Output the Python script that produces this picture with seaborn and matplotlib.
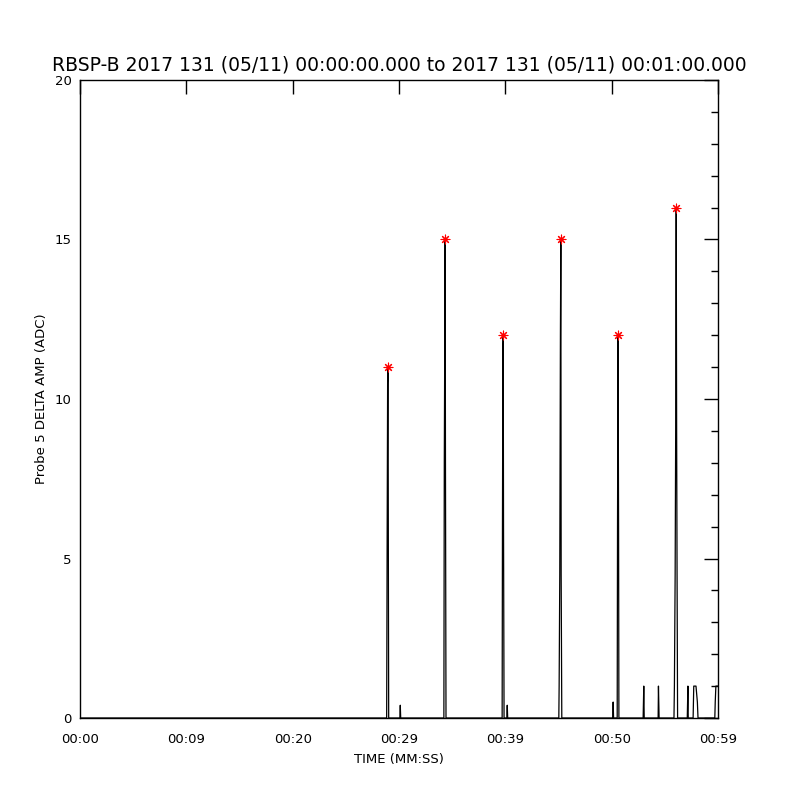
import numpy as np
import pandas as pd
import matplotlib
matplotlib.use("Agg")
import matplotlib.pyplot as plt
import seaborn as sns
from matplotlib.ticker import MultipleLocator

# waveform samples (seconds after 00:00:00, ADC counts)
time_s = [0.0, 28.80,
          28.84, 28.88, 28.93, 28.97, 29.00, 29.03,
          30.08, 30.12, 30.16,
          34.22, 34.26, 34.30, 34.34, 34.37, 34.42,
          39.70, 39.73, 39.77, 39.80, 39.83, 39.88,
          40.14, 40.18, 40.22,
          45.03, 45.06, 45.12, 45.18, 45.22, 45.25, 45.31,
          50.10, 50.14, 50.18,
          50.52, 50.55, 50.60, 50.65, 50.68,
          52.96, 52.99, 53.02, 53.06,
          54.37, 54.40, 54.43, 54.46,
          55.86, 55.90, 55.97, 56.02, 56.07, 56.11, 56.15, 56.20,
          57.11, 57.14, 57.17, 57.20,
          57.66, 57.72, 57.93, 58.06, 58.12,
          59.70, 59.74, 59.80, 59.84, 60.0]
amp = [0, 0,
       0, 5, 10.5, 11, 5, 0,
       0, 0.4, 0,
       0, 8, 11.5, 15, 8, 0,
       0, 6, 11.5, 12, 6, 0,
       0, 0.4, 0,
       0, 1, 4.5, 12, 15, 4.5, 0,
       0, 0.5, 0,
       0, 6, 12, 6, 0,
       0, 0.5, 1, 0,
       0, 1, 0.5, 0,
       0, 1, 4.5, 9, 16, 9, 4.5, 0,
       0, 0.5, 1, 0,
       0, 1, 1, 0.5, 0,
       0, 0.5, 1, 1, 1]

# peak markers
peak_t = [28.97, 34.34, 39.80, 45.22, 50.60, 56.07]
peak_amp = [11, 15, 12, 15, 12, 16]

x_ticks = [0, 10, 20, 30, 40, 50, 60]
x_labels = ["00:00", "00:09", "00:20", "00:29", "00:39", "00:50", "00:59"]
y_ticks = [0, 5, 10, 15, 20]

title = "RBSP-B 2017 131 (05/11) 00:00:00.000 to 2017 131 (05/11) 00:01:00.000"

wave = pd.DataFrame({"t": time_s, "amp": amp})
peaks = pd.DataFrame({"t": peak_t, "amp": peak_amp})

sns.set_style("white")
plt.rcParams["font.family"] = ["DejaVu Sans"]
plt.rcParams["text.color"] = "black"
plt.rcParams["axes.labelcolor"] = "black"

fig = plt.figure(figsize=(8, 8), dpi=100)
ax = fig.add_axes([0.1, 0.1025, 0.7975, 0.7975])

sns.lineplot(data=wave, x="t", y="amp", ax=ax, color="black", linewidth=0.9,
             estimator=None, sort=False)
sns.scatterplot(data=peaks, x="t", y="amp", ax=ax, color="red", marker=(8, 2, 0),
                s=40, linewidth=0.8, edgecolor="red", zorder=5)

ax.set_xlim(0, 60)
ax.set_ylim(0, 20)
ax.set_xticks(x_ticks)
ax.set_xticklabels(x_labels)
ax.set_yticks(y_ticks)
ax.yaxis.set_minor_locator(MultipleLocator(1))

ax.tick_params(axis="both", which="both", direction="in", top=True, right=True,
               colors="black", width=1)
ax.tick_params(axis="x", which="major", length=10, pad=11, labelsize=9.5)
ax.tick_params(axis="y", which="major", length=10, pad=6, labelsize=9.5)
ax.tick_params(axis="y", which="minor", length=5)

for s in ax.spines.values():
    s.set_visible(True)
    s.set_color("black")
    s.set_linewidth(1)

ax.set_xlabel("TIME (MM:SS)", fontsize=9.5, labelpad=5)
ax.set_ylabel("Probe 5 DELTA AMP (ADC)", fontsize=9.5, labelpad=5)
ax.set_title(title, fontsize=13.5, pad=7, color="black")

fig.savefig("out.png", dpi=100, facecolor="white")
